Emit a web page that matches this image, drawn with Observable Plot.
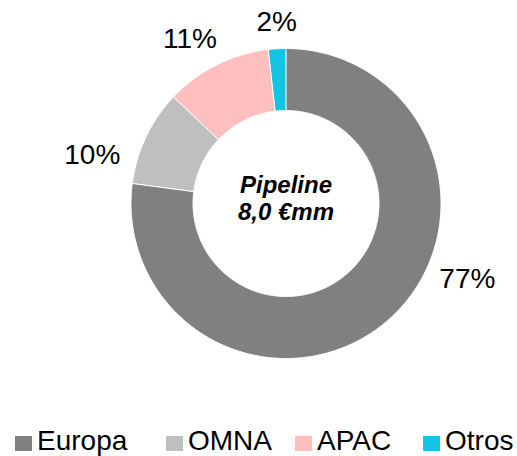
<!DOCTYPE html>
<html>
<head>
<meta charset="utf-8">
<script src="https://cdn.jsdelivr.net/npm/d3@7"></script>
<script src="https://cdn.jsdelivr.net/npm/@observablehq/plot@0.6"></script>
<style>
  html, body { margin: 0; padding: 0; background: #fff; }
  body { width: 517px; height: 456px; overflow: hidden; font-family: "Liberation Sans", Arial, sans-serif; }
  #wrap { position: relative; width: 517px; height: 456px; }
  #legend { position: absolute; top: 410px; left: 0; width: 517px; height: 46px; }
  .item { position: absolute; top: 18px; display: flex; align-items: flex-start; font-size: 28px; color: #000; line-height: 0.9; white-space: nowrap; }
  .sw { width: 17px; height: 15px; margin-right: 5px; margin-top: 8px; }
</style>
</head>
<body>
<div id="wrap"><div id="chart"></div><div id="legend"></div></div>
<script>
// ---- data ----
const categories = ["Europa", "OMNA", "APAC", "Otros"];
const values = [77.1, 10.0, 11.1, 1.8];
const labels = ["77%", "10%", "11%", "2%"];
const colors = ["#808080", "#BFBFBF", "#FFBFBF", "#13C5E3"];
const centerText = "Pipeline\n8,0 €mm";

// ---- layout ----
const W = 517, H = 410;
const innerRatio = 0.6;
const labelPos = [[1.17, -0.49], [-1.25, 0.31], [-0.62, 1.06], [-0.06, 1.17]];
const legendLeft = [15, 166, 295, 423];

// ---- build ring polygons from values ----
const total = d3.sum(values);
const points = [];
let acc = 0;
categories.forEach((cat, i) => {
  const a0 = acc / total * 2 * Math.PI;
  acc += values[i];
  const a1 = acc / total * 2 * Math.PI;
  const n = Math.max(4, Math.ceil((a1 - a0) / 0.01));
  for (let k = 0; k <= n; k++) {
    const a = a0 + (a1 - a0) * k / n;
    points.push({cat, x: Math.sin(a), y: Math.cos(a)});
  }
  for (let k = n; k >= 0; k--) {
    const a = a0 + (a1 - a0) * k / n;
    points.push({cat, x: innerRatio * Math.sin(a), y: innerRatio * Math.cos(a)});
  }
});

const labelData = labels.map((t, i) => ({t, x: labelPos[i][0], y: labelPos[i][1]}));

const chart = Plot.plot({
  width: W,
  height: H,
  marginLeft: 130.5,
  marginRight: 76.5,
  marginTop: 48,
  marginBottom: 52,
  style: {fontFamily: "'Liberation Sans', Arial, sans-serif", background: "#fff"},
  x: {domain: [-1, 1], axis: null},
  y: {domain: [-1, 1], axis: null},
  color: {domain: categories, range: colors},
  marks: [
    Plot.line(points, {x: "x", y: "y", z: "cat", fill: "cat", stroke: "white", strokeWidth: 1, curve: "linear-closed"}),
    Plot.text(labelData, {x: "x", y: "y", text: "t", fontSize: 28, fill: "#000"}),
    Plot.text([centerText], {x: () => 0, y: () => 0, text: d => d, fontSize: 24, fontWeight: "bold", fontStyle: "italic", lineHeight: 1.15, dy: -6, fill: "#000"})
  ]
});
document.getElementById("chart").appendChild(chart);

// ---- legend ----
const legend = document.getElementById("legend");
categories.forEach((c, i) => {
  const it = document.createElement("div");
  it.className = "item";
  it.style.left = legendLeft[i] + "px";
  const sw = document.createElement("span");
  sw.className = "sw";
  sw.style.background = colors[i];
  const tx = document.createElement("span");
  tx.textContent = c;
  it.appendChild(sw); it.appendChild(tx);
  legend.appendChild(it);
});
</script>
</body>
</html>
